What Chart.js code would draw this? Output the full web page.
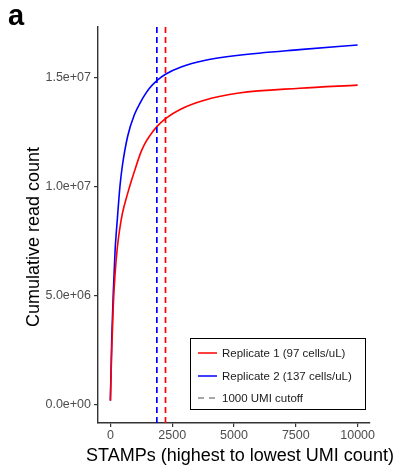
<!DOCTYPE html>
<html>
<head>
<meta charset="utf-8">
<script src="https://cdn.jsdelivr.net/npm/chart.js@4/dist/chart.umd.min.js"></script>
<style>
  html, body { margin: 0; padding: 0; background: #fff; }
  #wrap { position: relative; width: 399px; height: 469px; }
</style>
</head>
<body>
<div id="wrap"><canvas id="curve"></canvas></div>
<script>
// STAMP rank (cells ordered by UMI count) and cumulative reads per replicate
const stampRank = [1, 55, 120, 190, 285, 390, 490, 700, 970, 1240, 1380, 1580, 1880, 2230, 2860, 3800, 5200, 7650, 10000];
const rep1Reads = [2e5, 2.5e6, 4.6e6, 6.0e6, 7.25e6, 8.15e6, 8.8e6, 9.7e6, 1.07e7, 1.16e7, 1.195e7, 1.232e7, 1.276e7, 1.313e7, 1.357e7, 1.397e7, 1.43e7, 1.452e7, 1.466e7];
const rep2Reads = [2e5, 3.0e6, 5.2e6, 7.05e6, 8.56e6, 1.005e7, 1.1e7, 1.232e7, 1.33e7, 1.392e7, 1.419e7, 1.452e7, 1.487e7, 1.516e7, 1.549e7, 1.579e7, 1.603e7, 1.629e7, 1.65e7];

// rank where each replicate drops below 1000 UMIs
const cutoffRank = [2230, 1880];

const seriesLabels = ['Replicate 1 (97 cells/uL)', 'Replicate 2 (137 cells/uL)', '1000 UMI cutoff'];
const seriesColors = ['#ff0000', '#0000ff', '#8a8a8a'];

const xTicks = [0, 2500, 5000, 7500, 10000];
const yTicks = [0, 5e6, 1e7, 1.5e7];
const xRange = [-500, 10500];
const yRange = [-825000, 17325000];

const FONT = '"Liberation Sans", Arial, sans-serif';

function sciLabel(v) {
    if (v === 0) return '0.0e+00';
    const e = Math.floor(Math.log10(Math.abs(v)));
    const m = v / Math.pow(10, e);
    return m.toFixed(1) + 'e' + (e < 0 ? '-' : '+') + String(Math.abs(e)).padStart(2, '0');
}

const toPoints = ys => stampRank.map((x, i) => ({ x: x, y: ys[i] }));
const vline = x => [{ x: x, y: yRange[0] }, { x: x, y: yRange[1] }];

// titles, panel letter and boxed legend
const decorations = {
    id: 'decorations',
    afterDraw(chart) {
        const ctx = chart.ctx;
        ctx.save();

        ctx.fillStyle = '#000';
        ctx.font = 'bold 29px ' + FONT;
        ctx.textAlign = 'left';
        ctx.textBaseline = 'alphabetic';
        ctx.fillText('a', 8, 25);

        ctx.font = '18px ' + FONT;
        ctx.textAlign = 'center';
        ctx.fillText('STAMPs (highest to lowest UMI count)', 240, 461);

        ctx.save();
        ctx.translate(39, 237);
        ctx.rotate(-Math.PI / 2);
        ctx.fillText('Cumulative read count', 0, 0);
        ctx.restore();

        // legend box
        ctx.strokeStyle = '#000';
        ctx.lineWidth = 1;
        ctx.strokeRect(190.5, 338.5, 175, 71);

        const rows = [353, 376, 398];
        ctx.font = '11.5px ' + FONT;
        ctx.textAlign = 'left';
        ctx.textBaseline = 'middle';
        rows.forEach((y, i) => {
            ctx.beginPath();
            ctx.strokeStyle = seriesColors[i];
            ctx.lineWidth = 1.5;
            ctx.setLineDash(i === 2 ? [6, 5] : []);
            ctx.moveTo(198, y);
            ctx.lineTo(217, y);
            ctx.stroke();
            ctx.setLineDash([]);
            ctx.fillStyle = '#1a1a1a';
            ctx.fillText(seriesLabels[i], 222, y + 0.5);
        });

        ctx.restore();
    }
};

const axisLine = { display: true, color: '#333', width: 1.4 };
const tickGrid = { drawOnChartArea: false, drawTicks: true, tickLength: 4, color: '#333', lineWidth: 1.2 };
const tickFont = { family: FONT, size: 12.5 };

new Chart(document.getElementById('curve'), {
    type: 'line',
    data: {
        datasets: [
            {
                label: seriesLabels[0],
                data: toPoints(rep1Reads),
                borderColor: seriesColors[0],
                borderWidth: 1.6,
                pointRadius: 0,
                cubicInterpolationMode: 'monotone',
                order: 3
            },
            {
                label: seriesLabels[1],
                data: toPoints(rep2Reads),
                borderColor: seriesColors[1],
                borderWidth: 1.6,
                pointRadius: 0,
                cubicInterpolationMode: 'monotone',
                order: 4
            },
            {
                label: seriesLabels[2],
                data: vline(cutoffRank[0]),
                borderColor: seriesColors[0],
                borderWidth: 1.7,
                borderDash: [6, 4],
                pointRadius: 0,
                order: 1
            },
            {
                label: seriesLabels[2],
                data: vline(cutoffRank[1]),
                borderColor: seriesColors[1],
                borderWidth: 1.7,
                borderDash: [6, 4],
                pointRadius: 0,
                order: 2
            }
        ]
    },
    options: {
        responsive: true,
        maintainAspectRatio: false,
        animation: false,
        layout: { padding: { left: 0, top: 27, right: 29, bottom: 0 } },
        plugins: {
            legend: { display: false },
            tooltip: { enabled: false }
        },
        scales: {
            x: {
                type: 'linear',
                min: xRange[0],
                max: xRange[1],
                afterBuildTicks: s => { s.ticks = xTicks.map(v => ({ value: v })); },
                afterFit: s => { s.height = 46; },
                border: axisLine,
                grid: tickGrid,
                ticks: {
                    color: '#4d4d4d',
                    font: tickFont,
                    padding: 1,
                    maxRotation: 0,
                    callback: v => String(v)
                }
            },
            y: {
                type: 'linear',
                min: yRange[0],
                max: yRange[1],
                afterBuildTicks: s => { s.ticks = yTicks.map(v => ({ value: v })); },
                afterFit: s => { s.width = 98; },
                border: axisLine,
                grid: tickGrid,
                ticks: {
                    color: '#4d4d4d',
                    font: tickFont,
                    padding: 3,
                    callback: v => sciLabel(v)
                }
            }
        }
    },
    plugins: [decorations]
});
</script>
</body>
</html>
